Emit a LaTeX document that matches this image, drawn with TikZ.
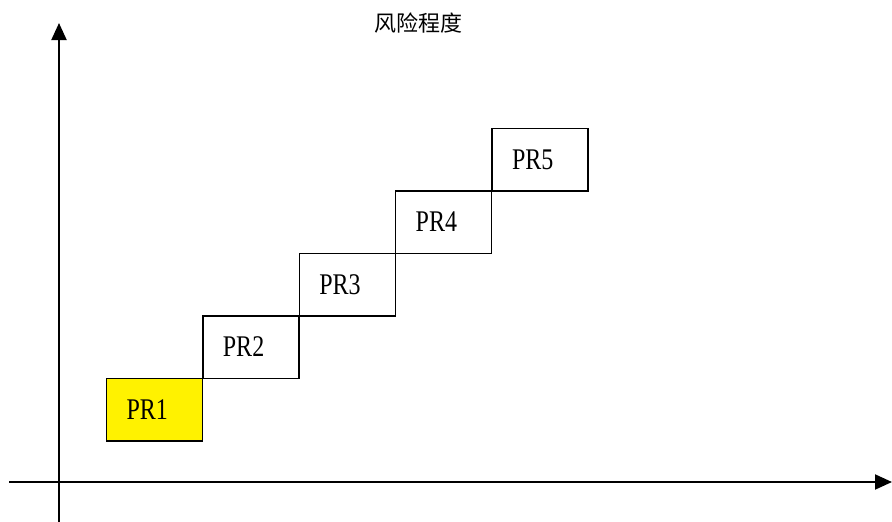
\documentclass[tikz,border=0pt]{standalone}
\usepackage{fontspec}
\setmainfont{Liberation Serif}
\newfontfamily\cjk{Noto Sans CJK SC}
\newfontfamily\prfont[FakeStretch=0.8]{Liberation Serif}
\usetikzlibrary{arrows.meta}
\tikzset{
  axis/.style={line width=2pt,-{Triangle[length=17pt,width=15pt]}},
  prbox/.style={draw=black,line width=1.5pt,rectangle,minimum height=62.5pt,
    text width=56pt,inner xsep=20pt,inner ysep=0pt,align=left,
    font=\prfont\fontsize{30}{32}\selectfont},
  titletext/.style={font=\cjk\fontsize{22}{23}\selectfont},
}
\begin{document}
\begin{tikzpicture}[x=1pt,y=-1pt]
\useasboundingbox (0,0) rectangle (892,522);
\coordinate (yb) at (59,522);
\coordinate (yt) at (59,23);
\coordinate (xl) at (9,482);
\coordinate (xr) at (892,482);
\draw[axis] (yb) -- (yt);
\draw[axis] (xl) -- (xr);
\node[titletext] (title) at (418,23) {风险程度};
\node[prbox,fill=yellow] (pr1) at (154.5,409.5) {PR1};
\node[prbox] (pr2) at (250.9,347.0) {PR2};
\node[prbox] (pr3) at (347.3,284.5) {PR3};
\node[prbox] (pr4) at (443.7,222.0) {PR4};
\node[prbox] (pr5) at (540.1,159.5) {PR5};
\end{tikzpicture}
\end{document}
